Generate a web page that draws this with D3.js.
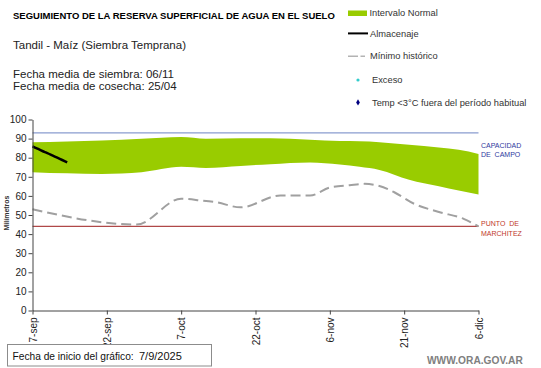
<!DOCTYPE html>
<html>
<head>
<meta charset="utf-8">
<script src="https://cdn.jsdelivr.net/npm/d3@7"></script>
<style>
  html, body { margin: 0; padding: 0; background: #fff; }
  svg { display: block; }
  text { font-family: "Liberation Sans", Arial, sans-serif; }
</style>
</head>
<body>
<svg id="chart" width="541" height="368"></svg>
<script>
// ---------- DATA ----------
const xTickDays   = [0, 15, 30, 45, 60, 75, 90];
const xTickLabels = ["7-sep", "22-sep", "7-oct", "22-oct", "6-nov", "21-nov", "6-dic"];
const yTicks      = [0, 10, 20, 30, 40, 50, 60, 70, 80, 90, 100];

// Intervalo Normal (banda)
const bandDays = [0, 7, 14, 22, 30, 35, 42, 48, 56, 62, 66, 70, 76, 82, 86, 90];
const bandLow  = [72.4, 71.8, 71.5, 72.4, 75.2, 74.6, 75.7, 76.6, 77.5, 76.4, 75.2, 73.6, 68.5, 65.0, 62.8, 60.7];
const bandHigh = [88.1, 88.5, 89.0, 89.9, 90.8, 89.9, 90.2, 90.2, 89.4, 88.7, 88.6, 88.1, 86.8, 85.3, 84.1, 82.0];

// Mínimo histórico
const minDays = [0, 21, 30, 34, 37, 42, 50, 56, 60, 64, 67, 70, 73, 77, 82, 87, 90];
const minVals = [53.0, 45.0, 58.5, 57.6, 56.7, 54.0, 60.2, 60.2, 64.4, 65.6, 66.3, 65.2, 61.9, 55.9, 51.6, 48.0, 44.0];

// Almacenaje
const almDays = [0, 1, 2, 3, 4, 5, 6, 7];
const almVals = [85.9, 84.7, 83.5, 82.4, 81.2, 80.0, 78.8, 77.6];

const capacidadCampo = 93;
const puntoMarchitez = 44;

// ---------- CHART ----------
const svg = d3.select("#chart");
svg.append("rect").attr("width", 541).attr("height", 368).attr("fill", "#fff");

const x = d3.scaleLinear().domain([0, 90]).range([32.5, 478.5]);
const y = d3.scaleLinear().domain([0, 100]).range([310.5, 119.5]);

// band
const band = bandDays.map((d, i) => ({d, lo: bandLow[i], hi: bandHigh[i]}));
svg.append("path")
  .datum(band)
  .attr("fill", "#99cc00")
  .attr("d", d3.area().x(p => x(p.d)).y0(p => y(p.lo)).y1(p => y(p.hi)).curve(d3.curveMonotoneX));

// capacidad de campo
svg.append("line")
  .attr("x1", x(0)).attr("x2", x(90))
  .attr("y1", y(capacidadCampo)).attr("y2", y(capacidadCampo))
  .attr("stroke", "#8a9ccf").attr("stroke-width", 1.3);

// punto de marchitez
svg.append("line")
  .attr("x1", x(0)).attr("x2", x(90))
  .attr("y1", y(puntoMarchitez)).attr("y2", y(puntoMarchitez))
  .attr("stroke", "#b04848").attr("stroke-width", 1.2);

// minimo historico
svg.append("path")
  .datum(minDays.map((d, i) => ({d, v: minVals[i]})))
  .attr("fill", "none")
  .attr("stroke", "#a0a0a0")
  .attr("stroke-width", 2)
  .attr("stroke-dasharray", "10,5")
  .attr("d", d3.line().x(p => x(p.d)).y(p => y(p.v)).curve(d3.curveMonotoneX));

// almacenaje
svg.append("path")
  .datum(almDays.map((d, i) => ({d, v: almVals[i]})))
  .attr("fill", "none")
  .attr("stroke", "#000")
  .attr("stroke-width", 2.5)
  .attr("d", d3.line().x(p => x(p.d)).y(p => y(p.v)).curve(d3.curveMonotoneX));

// axes
const yAxis = svg.append("g")
  .attr("transform", `translate(${x(0)},0)`)
  .call(d3.axisLeft(y).tickValues(yTicks).tickSize(4).tickSizeOuter(0).tickPadding(2));
yAxis.selectAll("text").attr("font-size", 10).attr("fill", "#222").attr("font-family", "Liberation Sans, Arial, sans-serif");
yAxis.selectAll("line, path").attr("stroke", "#444");

const xAxis = svg.append("g")
  .attr("transform", `translate(0,${y(0)})`)
  .call(d3.axisBottom(x).tickValues(xTickDays).tickFormat((d, i) => xTickLabels[i]).tickSize(4).tickSizeOuter(0));
xAxis.selectAll("line, path").attr("stroke", "#444");
xAxis.selectAll("text")
  .attr("font-size", 10).attr("fill", "#222").attr("font-family", "Liberation Sans, Arial, sans-serif")
  .attr("transform", "rotate(-90)")
  .attr("text-anchor", "end")
  .attr("x", -7).attr("y", 0).attr("dy", "0.35em");

// y axis title
svg.append("text")
  .attr("transform", "translate(9,213) rotate(-90)")
  .attr("text-anchor", "middle")
  .attr("font-size", 7).attr("font-weight", "bold").attr("fill", "#333")
  .text("Milímetros");

// right labels
svg.append("text").attr("x", 481).attr("y", 147.5).attr("font-size", 7).attr("fill", "#2f3a9e").text("CAPACIDAD");
svg.append("text").attr("x", 481).attr("y", 157).attr("font-size", 7).attr("fill", "#2f3a9e").attr("xml:space", "preserve").text("DE  CAMPO");
svg.append("text").attr("x", 481).attr("y", 226).attr("font-size", 7).attr("fill", "#c0392b").attr("xml:space", "preserve").text("PUNTO  DE");
svg.append("text").attr("x", 481).attr("y", 235.5).attr("font-size", 7).attr("fill", "#c0392b").text("MARCHITEZ");

// titles
svg.append("text").attr("x", 13).attr("y", 18.5).attr("font-size", 9.5).attr("font-weight", "bold").attr("fill", "#000")
  .text("SEGUIMIENTO DE LA RESERVA SUPERFICIAL DE AGUA EN EL SUELO");
svg.append("text").attr("x", 13).attr("y", 49).attr("font-size", 11.5).attr("fill", "#222")
  .text("Tandil - Maíz (Siembra Temprana)");
svg.append("text").attr("x", 13).attr("y", 78).attr("font-size", 11.5).attr("fill", "#222")
  .text("Fecha media de siembra: 06/11");
svg.append("text").attr("x", 13).attr("y", 90).attr("font-size", 11.5).attr("fill", "#222")
  .text("Fecha media de cosecha: 25/04");

// legend
const lg = svg.append("g");
lg.append("rect").attr("x", 348).attr("y", 10.5).attr("width", 19).attr("height", 5.5).attr("fill", "#99cc00");
lg.append("text").attr("x", 369.5).attr("y", 16.2).attr("font-size", 9.3).attr("fill", "#333").text("Intervalo Normal");
lg.append("line").attr("x1", 348).attr("x2", 368).attr("y1", 33.4).attr("y2", 33.4).attr("stroke", "#000").attr("stroke-width", 2);
lg.append("text").attr("x", 370).attr("y", 36.6).attr("font-size", 9.3).attr("fill", "#333").text("Almacenaje");
lg.append("line").attr("x1", 348).attr("x2", 358).attr("y1", 56.2).attr("y2", 56.2).attr("stroke", "#a0a0a0").attr("stroke-width", 1.2);
lg.append("line").attr("x1", 360.5).attr("x2", 365).attr("y1", 56.2).attr("y2", 56.2).attr("stroke", "#a0a0a0").attr("stroke-width", 1.2);
lg.append("text").attr("x", 370).attr("y", 59.4).attr("font-size", 9.3).attr("fill", "#333").text("Mínimo histórico");
lg.append("circle").attr("cx", 358).attr("cy", 80).attr("r", 1.6).attr("fill", "#33cccc");
lg.append("text").attr("x", 372).attr("y", 83.2).attr("font-size", 9.3).attr("fill", "#333").text("Exceso");
lg.append("path").attr("d", d3.symbol().type(d3.symbolDiamond).size(12)()).attr("transform", "translate(358,102.4)").attr("fill", "#000080");
lg.append("text").attr("x", 372).attr("y", 105.6).attr("font-size", 9.3).attr("fill", "#333").text("Temp <3°C fuera del período habitual");

// bottom box
svg.append("rect").attr("x", 7.5).attr("y", 344.5).attr("width", 204).attr("height", 21.5)
  .attr("fill", "#fff").attr("stroke", "#8c8c8c").attr("stroke-width", 1);
svg.append("text").attr("x", 12.5).attr("y", 360.3).attr("font-size", 10.2).attr("font-family", "Lato, 'Open Sans', sans-serif").attr("fill", "#111")
  .text("Fecha de inicio del gráfico:");
svg.append("text").attr("x", 139).attr("y", 360.3).attr("font-size", 11).attr("font-family", "Lato, 'Open Sans', sans-serif").attr("fill", "#111")
  .text("7/9/2025");

svg.append("text").attr("x", 427).attr("y", 364).attr("font-size", 10.2).attr("font-weight", "bold").attr("fill", "#808080")
  .text("WWW.ORA.GOV.AR");
</script>
</body>
</html>
